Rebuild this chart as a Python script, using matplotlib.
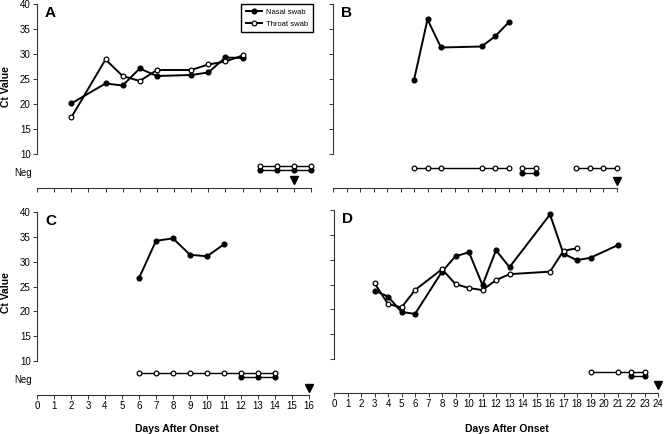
"""Ct values of nasal and throat swabs against days after onset, four patients."""

from matplotlib import pyplot

# Panel A
a_nasal_days = [2, 4, 5, 6, 7, 9, 10, 11, 12]
a_nasal_ct = [20.1, 24.1, 23.7, 27.1, 25.6, 25.8, 26.3, 29.3, 29.2]
a_throat_days = [2, 4, 5, 6, 7, 9, 10, 11, 12]
a_throat_ct = [17.3, 28.9, 25.6, 24.6, 26.8, 26.8, 27.9, 28.5, 29.7]
a_nasal_neg = [[13, 14, 15, 16]]
a_throat_neg = [[13, 14, 15, 16]]
a_arrow_day = 15

# Panel B
b_nasal_days = [6, 7, 8, 11, 12, 13]
b_nasal_ct = [24.8, 36.9, 31.3, 31.5, 33.5, 36.3]
b_throat_days = []
b_throat_ct = []
b_nasal_neg = [[14, 15]]
b_throat_neg = [[6, 7, 8, 11, 12, 13], [14, 15], [18, 19, 20, 21]]
b_arrow_day = 21

# Panel C
c_nasal_days = [6, 7, 8, 9, 10, 11]
c_nasal_ct = [26.7, 34.2, 34.7, 31.4, 31.1, 33.5]
c_throat_days = []
c_throat_ct = []
c_nasal_neg = [[12, 13, 14]]
c_throat_neg = [[6, 7, 8, 9, 10, 11, 12, 13, 14]]
c_arrow_day = 16

# Panel D
d_nasal_days = [3, 4, 5, 6, 8, 9, 10, 11, 12, 13, 16, 17, 18, 19, 21]
d_nasal_ct = [23.8, 22.6, 19.5, 19.1, 27.6, 30.7, 31.5, 24.9, 31.9, 28.5,
              39.1, 31.2, 29.9, 30.4, 32.9]
d_throat_days = [3, 4, 5, 6, 8, 9, 10, 11, 12, 13, 16, 17, 18]
d_throat_ct = [25.3, 21.1, 20.4, 23.9, 28.1, 25.1, 24.3, 23.9, 25.9, 27.1,
               27.6, 31.8, 32.3]
d_nasal_neg = [[22, 23]]
d_throat_neg = [[19, 21, 22, 23]]
d_arrow_day = 24

pyplot.rcParams['font.family'] = ['Liberation Sans', 'DejaVu Sans']
W, H = 664, 434
fig = pyplot.figure(figsize=(W / 100, H / 100), dpi=100)


def add_axes(left, right, top, bottom):
    return fig.add_axes([left / W, 1 - bottom / H,
                         (right - left) / W, (bottom - top) / H])


panels = [
    dict(letter='A', box=(37, 311, 4, 188), xmax=16, axis_end=16,
         labels=False, neg=(7.7, 6.9), arrow_y=4.8,
         nasal=(a_nasal_days, a_nasal_ct), throat=(a_throat_days, a_throat_ct),
         nasal_neg=a_nasal_neg, throat_neg=a_throat_neg, arrow=a_arrow_day),
    dict(letter='B', box=(333, 657, 4, 188), xmax=24, axis_end=21,
         labels=False, neg=(7.2, 6.3), arrow_y=4.6,
         nasal=(b_nasal_days, b_nasal_ct), throat=(b_throat_days, b_throat_ct),
         nasal_neg=b_nasal_neg, throat_neg=b_throat_neg, arrow=b_arrow_day),
    dict(letter='C', box=(37, 309, 212, 395), xmax=16, axis_end=16,
         labels=True, neg=(7.6, 6.8), arrow_y=4.7,
         nasal=(c_nasal_days, c_nasal_ct), throat=(c_throat_days, c_throat_ct),
         nasal_neg=c_nasal_neg, throat_neg=c_throat_neg, arrow=c_arrow_day),
    dict(letter='D', box=(334, 658, 210, 393), xmax=24, axis_end=24,
         labels=True, neg=(7.4, 6.6), arrow_y=4.9,
         nasal=(d_nasal_days, d_nasal_ct), throat=(d_throat_days, d_throat_ct),
         nasal_neg=d_nasal_neg, throat_neg=d_throat_neg, arrow=d_arrow_day),
]

nasal_style = dict(color='black', marker='o', markersize=3.4, markerfacecolor='black',
                   markeredgecolor='black', clip_on=False)
throat_style = dict(color='black', marker='o', markersize=3.4, markerfacecolor='white',
                    markeredgecolor='black', markeredgewidth=0.9, clip_on=False)

handles = []
for p in panels:
    ax = add_axes(*p['box'])
    ax.set_xlim(0, p['xmax'])
    ax.set_ylim(3.2, 40)
    for side in ('top', 'right'):
        ax.spines[side].set_visible(False)
    ax.spines['left'].set_bounds(10, 40)
    ax.spines['bottom'].set_bounds(0, p['axis_end'])
    for side in ('left', 'bottom'):
        ax.spines[side].set_linewidth(0.8)
        ax.spines[side].set_color('#333333')
    ax.set_xticks(range(0, p['axis_end'] + 1))
    ax.set_yticks(range(10, 41, 5))
    ax.tick_params(direction='out', length=3, width=0.7, labelsize=7, pad=1.5,
                   color='#333333')
    if not p['labels']:
        ax.set_xticklabels([])
    if p['box'][0] > 300:
        ax.set_yticklabels([])
    else:
        ax.text(-0.3, 6.3, 'Neg', ha='right', va='center', fontsize=7)

    # Negative samples
    throat_y, nasal_y = p['neg']
    for seg in p['throat_neg']:
        ax.plot(seg, [throat_y] * len(seg), lw=1.0, zorder=3, **throat_style)
    for seg in p['nasal_neg']:
        ax.plot(seg, [nasal_y] * len(seg), lw=1.0, zorder=2, **nasal_style)

    # Positive samples
    ln_n, = ax.plot(*p['nasal'], lw=1.4, zorder=4, label='Nasal swab',
                    **nasal_style)
    ln_t, = ax.plot(*p['throat'], lw=1.4, zorder=5, label='Throat swab',
                    **throat_style)
    if p['letter'] == 'A':
        handles = [ln_n, ln_t]

    ax.plot([p['arrow']], [p['arrow_y']], marker='v', markersize=6,
            color='black', linestyle='none', clip_on=False)

    left = p['box'][0]
    ax.text((left + 8) / W, 1 - (p['box'][2] + 2) / H, p['letter'],
            transform=fig.transFigure, fontsize=11, fontweight='bold',
            ha='left', va='top')

fig.text(6 / W, 1 - 87 / H, 'Ct Value', rotation=90, fontsize=7.5,
         fontweight='bold', ha='center', va='center')
fig.text(6 / W, 1 - 293 / H, 'Ct Value', rotation=90, fontsize=7.5,
         fontweight='bold', ha='center', va='center')
fig.text(177 / W, 1 - 429 / H, 'Days After Onset', fontsize=7.5,
         fontweight='bold', ha='center', va='center')
fig.text(507 / W, 1 - 429 / H, 'Days After Onset', fontsize=7.5,
         fontweight='bold', ha='center', va='center')

leg = fig.legend(handles, [h.get_label() for h in handles], loc='upper right',
                 bbox_to_anchor=(313 / W, 1 - 4 / H), fontsize=5.5,
                 fancybox=False, edgecolor='black', framealpha=1,
                 handlelength=2.2, borderpad=0.6, labelspacing=0.6,
                 handletextpad=0.5, borderaxespad=0)
leg.get_frame().set_linewidth(1.0)

fig.savefig('out.png', dpi=100)
